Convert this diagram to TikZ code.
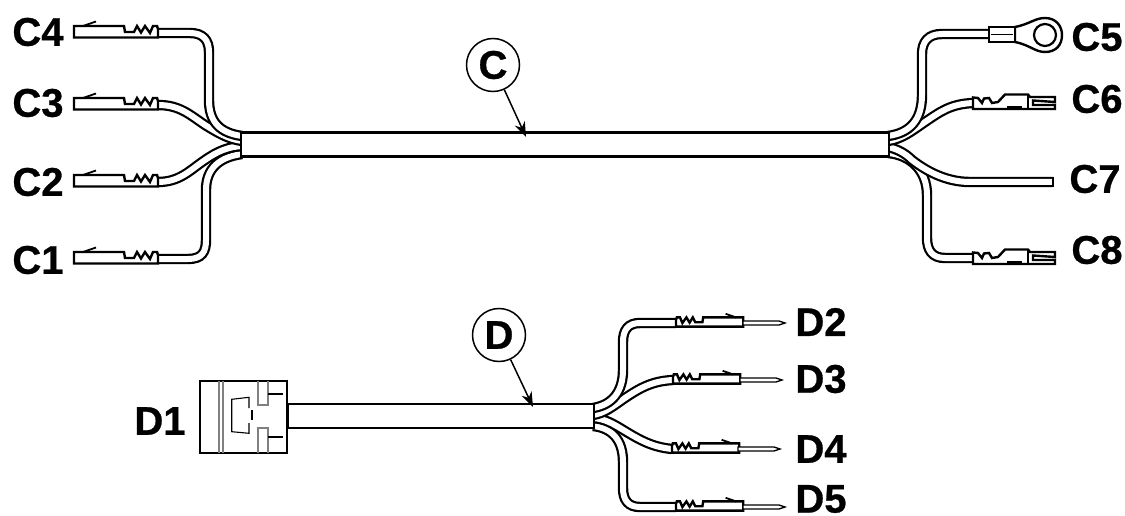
\documentclass[tikz,border=0pt]{standalone}
\usepackage{fontspec}
\setmainfont[BoldFeatures={FakeBold=0.7}]{Liberation Sans}
\usetikzlibrary{arrows.meta,positioning}
\tikzset{
 wire/.style={draw=black,line width=2.2pt,double=white,double distance=6pt},
 outline/.style={draw=black,line width=2.4pt,fill=white,line join=miter},
 thinline/.style={draw=black,line width=1.1pt},
 lab/.style={font=\fontsize{40}{40}\selectfont\bfseries,inner sep=0pt},
 callout/.style={shape=circle,draw=black,line width=1.5pt,fill=white,minimum size=53pt,inner sep=0pt,font=\fontsize{40}{40}\selectfont\bfseries},
 leader/.style={-{Stealth[length=15pt,width=11pt]},line width=1.5pt},
 crimp/.pic={
  \draw[outline] (0,4.5) -- (-84,4.5) -- (-84,-7) -- (-34,-7) -- (-33,-1) -- (-24,-1) -- (-21,-7)
   -- (-17,-.5) -- (-13,-7) -- (-8,0) -- (-5,-7) -- (-1,-7) -- (0,-4) -- cycle;
  \draw[thinline,line width=1.8pt] (-75,-7) -- (-62,-11.5);
 },
 pin/.pic={
  \draw[outline,line width=1.4pt] (0,-2) -- (36,-2) -- (42,0) -- (36,2) -- (0,2) -- cycle;
 },
 fork/.pic={
  \draw[outline] (0,-5.5) -- (5,-5) -- (9,0) -- (11,-4.5) -- (16,-5) -- (19,0) -- (25,-1) -- (32,-8.5)
   -- (55,-8.5) -- (57,-6) -- (82,-6) -- (82,-1) -- (60,-2.5) -- (60,2) -- (82,2) -- (82,6)
   -- (55,6) -- (0,6) -- cycle;
  \draw[thinline] (34,4) -- (49,4);
  \draw[thinline] (55,-8) -- (55,6);
 }
}
\begin{document}
\begin{tikzpicture}[x=1pt,y=-1pt]
\useasboundingbox (0,0) rectangle (1125,516);

% upper harness
\coordinate (c1w) at (158,259);
\coordinate (c2w) at (158,182);
\coordinate (c3w) at (158,105);
\coordinate (c4w) at (158,33);
\coordinate (c5w) at (990,34);
\coordinate (c6w) at (973,103);
\coordinate (c7w) at (1053,182);
\coordinate (c8w) at (973,258);

\path[wire] (c1w) -- (188,259) .. controls (202,259) and (206,252) .. (206,240) -- (206,190) .. controls (206,168) and (220,157) .. (242,154);
\path[wire] (c2w) .. controls (180,182) and (190,170) .. (205,160) .. controls (218,151) and (228,147) .. (242,146);
\path[wire] (c3w) .. controls (180,105) and (190,115) .. (205,125) .. controls (218,133) and (228,139) .. (242,141);
\path[wire] (c4w) -- (190,33) .. controls (203,33) and (209,40) .. (209,52) -- (209,100) .. controls (209,122) and (220,133) .. (242,136);

\path[wire] (c8w) -- (945,258) .. controls (932,258) and (927,250) .. (927,238) -- (927,195) .. controls (927,170) and (910,155) .. (888,153);
\path[wire] (c7w) -- (970,182) .. controls (945,182) and (925,170) .. (912,160) .. controls (905,153) and (897,149) .. (888,147);
\path[wire] (c6w) .. controls (950,104) and (940,112) .. (925,122) .. controls (912,131) and (902,139) .. (888,141);
\path[wire] (c5w) -- (942,34) .. controls (928,34) and (922,42) .. (922,54) -- (922,95) .. controls (922,120) and (910,133) .. (888,136);
\draw[black,line width=2.2pt] (c7w) +(0,-5.1) -- +(0,5.1);

\node[draw=black,line width=2.4pt,fill=white,minimum width=648pt,minimum height=24pt,inner sep=0pt,anchor=west] (ctrunk) at (240,144.5) {};

\pic at (c1w) {crimp};
\pic at (c2w) {crimp};
\pic at (c3w) {crimp};
\pic at (c4w) {crimp};
\pic at (c6w) {fork};
\pic at (c8w) {fork};

% ring terminal
\draw[outline] (1015,27) .. controls (1030,24) and (1035,18) .. (1045,18) .. controls (1056,18) and (1062,26) .. (1062,35)
 .. controls (1062,45) and (1056,52) .. (1045,52) .. controls (1035,52) and (1030,45) .. (1015,42) -- cycle;
\node[draw=black,line width=2.2pt,fill=white,shape=circle,minimum size=22pt,inner sep=0pt] (ring) at (1045,35) {};
\draw[outline] (989,27) rectangle (1015,42);
\draw[thinline] (991,34.5) -- (1013,34.5);

\node[lab] (c4) at (38,32) {C4};
\node[lab] (c3) at (38,103) {C3};
\node[lab] (c2) at (38,182) {C2};
\node[lab] (c1) at (38,260) {C1};
\node[lab] (c5) at (1097,37) {C5};
\node[lab] (c6) at (1097,99) {C6};
\node[lab] (c7) at (1095,179) {C7};
\node[lab] (c8) at (1097,250) {C8};

\node[callout] (callc) at (493,65) {C};
\coordinate (callcend) at (526,137);
\draw[leader] (callc) -- (callcend);

% lower harness
\coordinate (d2w) at (676,323);
\coordinate (d3w) at (673,380);
\coordinate (d4w) at (672,449);
\coordinate (d5w) at (676,507);

\path[wire] (d5w) -- (640,507) .. controls (628,507) and (623,500) .. (623,488) -- (623,462) .. controls (623,440) and (612,428) .. (593,426);
\path[wire] (d4w) .. controls (652,447) and (640,440) .. (625,431) .. controls (612,423) and (605,419) .. (593,418);
\path[wire] (d3w) .. controls (652,381) and (640,388) .. (625,398) .. controls (612,407) and (605,413) .. (593,415);
\path[wire] (d2w) -- (640,323) .. controls (628,323) and (623,330) .. (623,342) -- (623,370) .. controls (623,392) and (612,405) .. (593,408);

\node[draw=black,line width=2.4pt,fill=white,minimum width=306pt,minimum height=24pt,inner sep=0pt,anchor=west] (dtrunk) at (287,416) {};

\foreach \n in {d2,d3,d4,d5}{
 \pic[xscale=-.8,yscale=.8] at (\n w) {crimp};
}
\pic at (743,323) {pin};
\pic at (740,380) {pin};
\pic at (738,449) {pin};
\pic at (743,507) {pin};

% connector
\node[draw=black,line width=2.6pt,fill=white,minimum width=87pt,minimum height=72pt,inner sep=0pt] (d1box) at (243.5,417) {};
\draw[thinline,gray,line width=1.3pt] (219,381) -- (219,453) (223,381) -- (223,453);
\draw[thinline,gray,line width=1.3pt] (258,381) -- (258,405) -- (268,405) -- (268,381);
\draw[thinline,gray,line width=1.3pt] (258,453) -- (258,428) -- (268,428) -- (268,453);
\draw[thinline] (268,394) -- (283,394) (268,437) -- (283,437);
\draw[thinline] (249,408) -- (249,397.3) -- (231.7,399.3) -- (231.7,431.7) -- (249,433.3) -- (249,423);
\draw[thinline] (252,410) -- (252,420);

\node[lab] (d1) at (160,421) {D1};
\node[lab] (d2) at (821,322) {D2};
\node[lab] (d3) at (821,379) {D3};
\node[lab] (d4) at (821,449) {D4};
\node[lab] (d5) at (821,499) {D5};

\node[callout] (calld) at (499,335) {D};
\coordinate (calldend) at (533,407);
\draw[leader] (calld) -- (calldend);

\end{tikzpicture}
\end{document}
